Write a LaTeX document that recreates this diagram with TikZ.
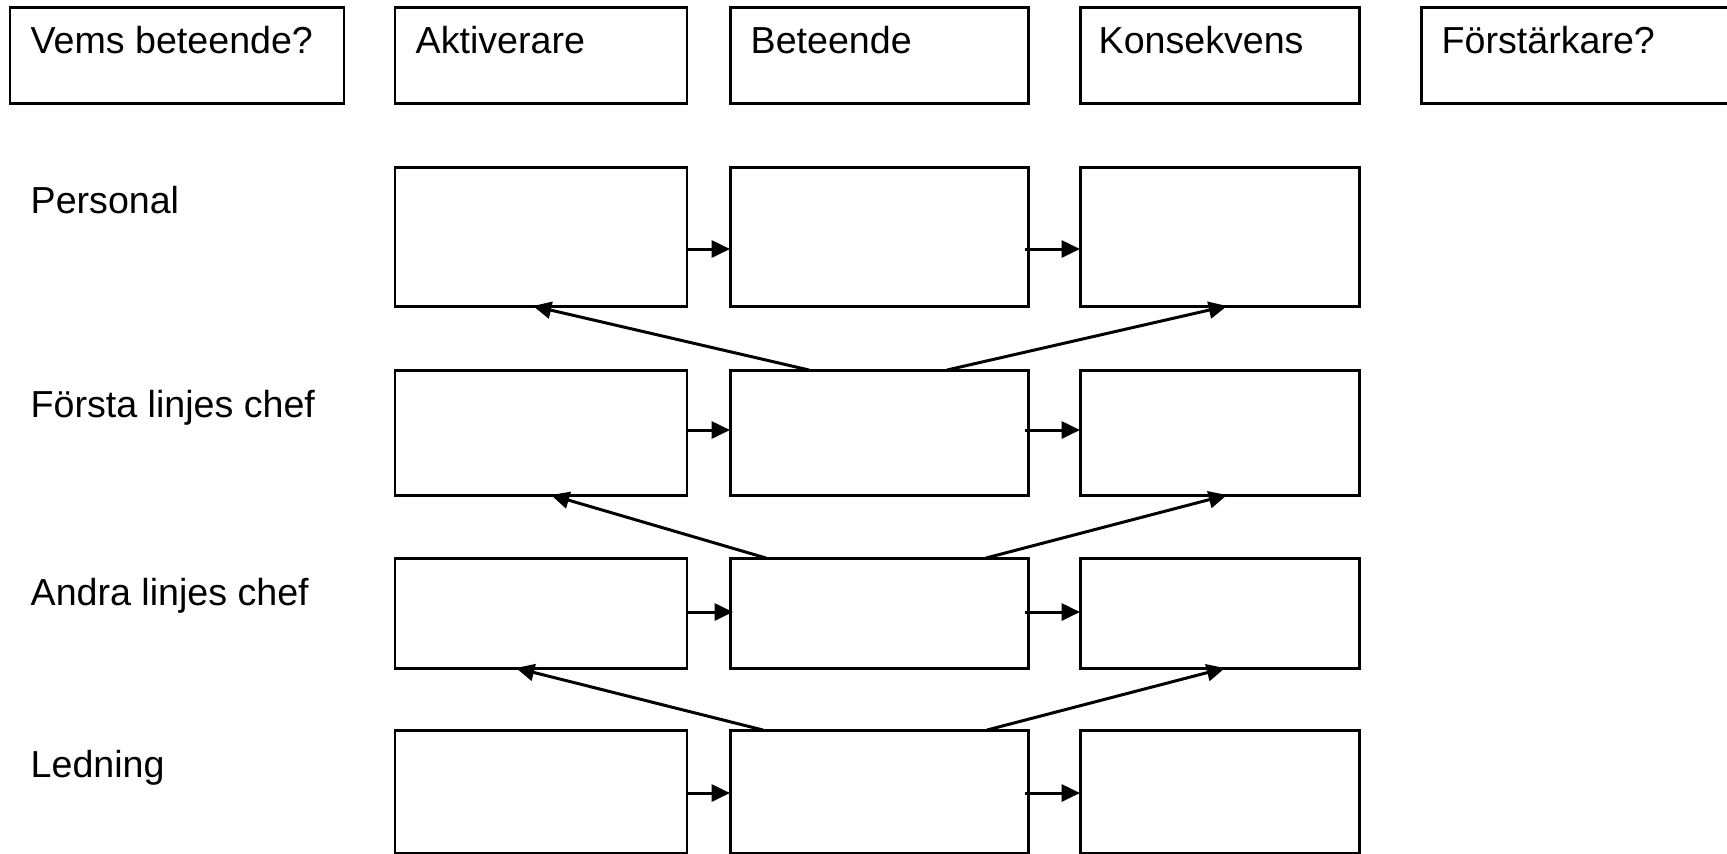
\documentclass[tikz,border=0pt]{standalone}
\usepackage{fontspec}
\setmainfont{Liberation Sans}
\usetikzlibrary{arrows.meta}
\tikzset{
  box/.style={draw, line width=0.85pt, anchor=north west, inner sep=0pt, outer sep=0pt},
  colA/.style={box, minimum width=29.2mm},
  colB/.style={box, minimum width=29.8mm},
  colK/.style={box, minimum width=27.9mm},
  txt/.style={anchor=base west, inner sep=0pt, font=\fontsize{10.7}{12}\selectfont},
  arr/.style={-{Triangle[length=5.2pt,width=4.8pt]}, line width=0.85pt}
}
\begin{document}
\begin{tikzpicture}[x=0.1mm, y=-0.1mm]
\path[use as bounding box, clip] (0,0) rectangle (1727,853);
\node[box, minimum width=33.4mm, minimum height=9.6mm] (hWho) at (10,7) {};
\node[colA, minimum height=9.6mm] (hA) at (395,7) {};
\node[colB, minimum height=9.6mm] (hB) at (730,7) {};
\node[colK, minimum height=9.6mm] (hK) at (1080,7) {};
\node[box, minimum width=31mm, minimum height=9.6mm] (hF) at (1421,7) {};
\node[txt] (tWho) at ([xshift=2mm, yshift=-4.6mm]hWho.north west) {Vems beteende?};
\node[txt] (tA) at ([xshift=2mm, yshift=-4.6mm]hA.north west) {Aktiverare};
\node[txt] (tB) at ([xshift=2mm, yshift=-4.6mm]hB.north west) {Beteende};
\node[txt] (tK) at ([xshift=1.8mm, yshift=-4.6mm]hK.north west) {Konsekvens};
\node[txt] (tF) at ([xshift=2mm, yshift=-4.6mm]hF.north west) {Förstärkare?};
\node[txt] (lPers) at (30,213) {Personal};
\node[txt] (lFirst) at (30,417) {Första linjes chef};
\node[txt] (lSecond) at (30,605) {Andra linjes chef};
\node[txt] (lLead) at (30,777) {Ledning};
\node[colA, minimum height=13.9mm] (a1) at (395,167) {};
\node[colB, minimum height=13.9mm] (b1) at (730,167) {};
\node[colK, minimum height=13.9mm] (k1) at (1080,167) {};
\node[colA, minimum height=12.5mm] (a2) at (395,370) {};
\node[colB, minimum height=12.5mm] (b2) at (730,370) {};
\node[colK, minimum height=12.5mm] (k2) at (1080,370) {};
\node[colA, minimum height=11mm] (a3) at (395,558) {};
\node[colB, minimum height=11mm] (b3) at (730,558) {};
\node[colK, minimum height=11mm] (k3) at (1080,558) {};
\node[colA, minimum height=12.3mm] (a4) at (395,730) {};
\node[colB, minimum height=12.3mm] (b4) at (730,730) {};
\node[colK, minimum height=12.3mm] (k4) at (1080,730) {};
\draw[arr] (a1.east |- 0,249) -- (b1.west |- 0,249);
\draw[arr] ([xshift=-0.3mm]b1.east |- 0,249) -- (k1.west |- 0,249);
\draw[arr] (a2.east |- 0,430) -- (b2.west |- 0,430);
\draw[arr] ([xshift=-0.3mm]b2.east |- 0,430) -- (k2.west |- 0,430);
\draw[arr] (a3.east |- 0,612) -- ([xshift=0.3mm]b3.west |- 0,612);
\draw[arr] ([xshift=-0.3mm]b3.east |- 0,612) -- (k3.west |- 0,612);
\draw[arr] (a4.east |- 0,793) -- (b4.west |- 0,793);
\draw[arr] ([xshift=-0.3mm]b4.east |- 0,793) -- (k4.west |- 0,793);
\draw[arr] ([xshift=7.9mm]b2.north west) -- ([xshift=13.8mm]a1.south west);
\draw[arr] ([xshift=21.7mm]b2.north west) -- ([xshift=14.7mm]k1.south west);
\draw[arr] ([xshift=3.6mm]b3.north west) -- ([xshift=15.6mm]a2.south west);
\draw[arr] ([xshift=25.6mm]b3.north west) -- ([xshift=14.7mm]k2.south west);
\draw[arr] ([xshift=3.3mm]b4.north west) -- ([xshift=12.1mm]a3.south west);
\draw[arr] ([xshift=25.7mm]b4.north west) -- ([xshift=14.5mm]k3.south west);
\end{tikzpicture}
\end{document}
